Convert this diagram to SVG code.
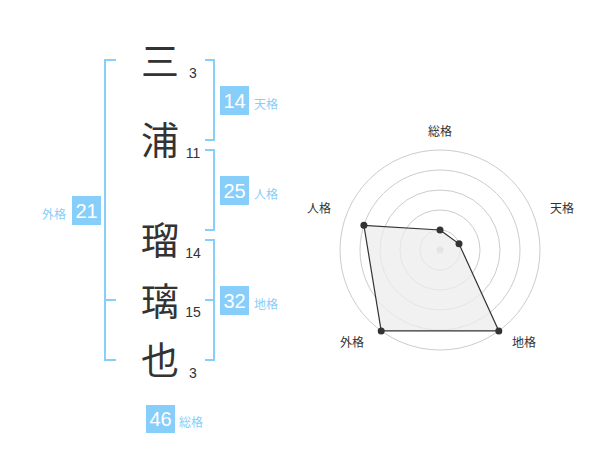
<svg xmlns="http://www.w3.org/2000/svg" width="600" height="470" viewBox="0 0 600 470">
<style>
.ch{font-family:"Noto Sans CJK JP","Noto Sans CJK SC",sans-serif;font-size:38px;fill:#333;text-anchor:middle}
.sn{font-family:"Liberation Sans",Arial,sans-serif;font-size:14px;fill:#333;text-anchor:middle}
.bx{fill:#87cefa}
.bn{font-family:"Liberation Sans",Arial,sans-serif;font-size:20px;fill:#fff;text-anchor:middle}
.lb{font-family:"Noto Sans CJK JP","Noto Sans CJK SC",sans-serif;font-size:12px;fill:#87cefa}
.br{fill:none;stroke:#87cefa;stroke-width:2}
.ring{fill:none;stroke:#cccccc;stroke-width:1}
.rl{font-family:"Noto Sans CJK JP","Noto Sans CJK SC",sans-serif;font-size:12px;fill:#333;text-anchor:middle}
.pt{fill:#333}
</style>
<rect width="600" height="470" fill="#fff"/>
<g id="connectors">
<path class="br" d="M116,60 H105 V360 H116 M105,300 H116"/>
<path class="br" d="M205,60 H214 V140 H205"/>
<path class="br" d="M205,150 H214 V230 H205"/>
<path class="br" d="M205,240 H214 V360 H205 M214,300 H205"/>
</g>
<g id="char-1"><text class="ch" x="160" y="75">三</text><text class="sn" x="193" y="78">3</text></g>
<g id="char-2"><text class="ch" x="160" y="154">浦</text><text class="sn" x="193" y="158">11</text></g>
<g id="char-3"><text class="ch" x="160" y="254">瑠</text><text class="sn" x="193" y="258">14</text></g>
<g id="char-4"><text class="ch" x="160" y="315">璃</text><text class="sn" x="193" y="317">15</text></g>
<g id="char-5"><text class="ch" x="160" y="374">也</text><text class="sn" x="193" y="378">3</text></g>
<g id="tenkaku"><rect class="bx" x="220" y="86" width="29" height="29"/><text class="bn" x="234.5" y="108">14</text><text class="lb" x="254" y="108.5">天格</text></g>
<g id="jinkaku"><rect class="bx" x="220" y="176" width="29" height="29"/><text class="bn" x="234.5" y="198">25</text><text class="lb" x="254" y="198.5">人格</text></g>
<g id="chikaku"><rect class="bx" x="220" y="286" width="29" height="29"/><text class="bn" x="234.5" y="308">32</text><text class="lb" x="254" y="308.5">地格</text></g>
<g id="gaikaku"><rect class="bx" x="72" y="196" width="29" height="29"/><text class="bn" x="86.5" y="218">21</text><text class="lb" x="66" y="218.5" text-anchor="end">外格</text></g>
<g id="soukaku"><rect class="bx" x="146" y="405" width="29" height="28"/><text class="bn" x="160.5" y="426">46</text><text class="lb" x="179" y="427">総格</text></g>
<g id="radar">
<circle class="ring" cx="440" cy="250" r="20"/>
<circle class="ring" cx="440" cy="250" r="40"/>
<circle class="ring" cx="440" cy="250" r="60"/>
<circle class="ring" cx="440" cy="250" r="80"/>
<circle class="ring" cx="440" cy="250" r="100"/>
<circle cx="440" cy="250" r="3.5" fill="#cccccc"/>
<polygon points="440,230 459,243.8 498.8,330.9 381.2,330.9 363.9,225.3" fill="#ececec" fill-opacity="0.75" stroke="#333" stroke-width="1.2"/>
<circle class="pt" cx="440" cy="230" r="3.5"/>
<circle class="pt" cx="459" cy="243.8" r="3.5"/>
<circle class="pt" cx="498.8" cy="330.9" r="3.5"/>
<circle class="pt" cx="381.2" cy="330.9" r="3.5"/>
<circle class="pt" cx="363.9" cy="225.3" r="3.5"/>
<text class="rl" x="440" y="135.5">総格</text>
<text class="rl" x="562" y="213">天格</text>
<text class="rl" x="319" y="212.5">人格</text>
<text class="rl" x="352" y="347">外格</text>
<text class="rl" x="524" y="347">地格</text>
</g>
</svg>
